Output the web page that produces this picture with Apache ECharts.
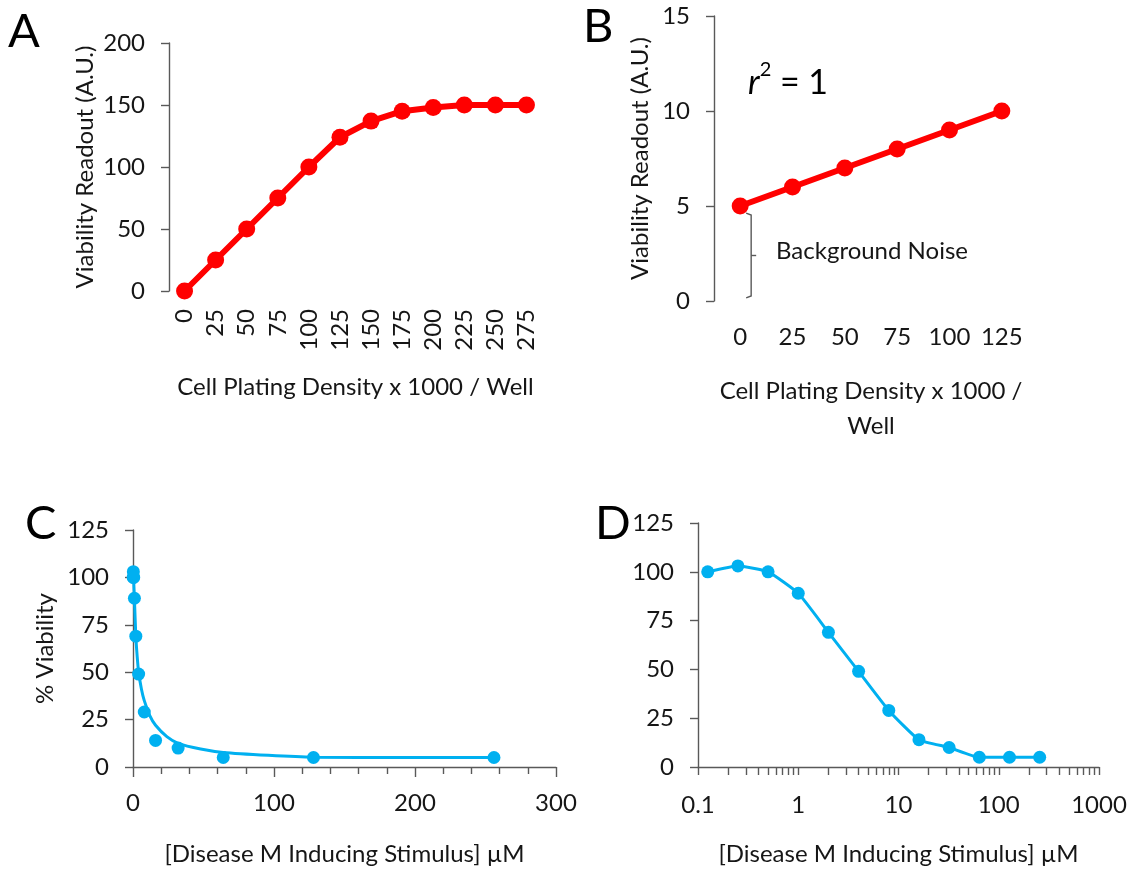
<!DOCTYPE html>
<html>
<head>
<meta charset="utf-8">
<script src="https://cdn.jsdelivr.net/npm/echarts@6/dist/echarts.min.js"></script>
<style>html,body{margin:0;padding:0;background:#fff}#c{width:1131px;height:872px}</style>
</head>
<body>
<div id="c"></div>
<script>
// ---- data ----
const densityA = ['0','25','50','75','100','125','150','175','200','225','250','275'];
const readoutA = [0,25,50,75,100,124,137,145,148,150,150,150];
const densityB = ['0','25','50','75','100','125'];
const readoutB = [5,6,7,8,9,10];
const braceB = [0, 4.63, 0.16]; // category index, top value, bottom value
const conc = [0.125,0.25,0.5,1,2,4,8,16,32,64,128,256];
const viability = [100,103,100,89,69,49,29,14,10,5,5,5];
const fitX = [0,0.5,1,2,3,4,6,8,12,16,24,32,48,64,96,128,192,256];
const fitY = [103,98,89,69,58,50,41,35,27,22,16,12.5,9.5,7.7,6.2,5.2,5,5];
const logTicks = [0.1,0.2,0.3,0.4,0.5,0.6,0.7,0.8,0.9,1,2,3,4,5,6,7,8,9,10,20,30,40,50,60,70,80,90,100,200,300,400,500,600,700,800,900,1000];
const logLabels = [0.1,1,10,100,1000];

const FONT = 'Lato';
const TXT = '#161616';
const AX = '#595959';
const RED = '#FF0000';
const BLUE = '#00B0F0';
const TICK_FS = 24;
const NAME_FS = 24;

function yAx(grid, min, max, interval, name, gap) {
  return {
    type: 'value', gridIndex: grid, min: min, max: max, interval: interval,
    axisLine: {show: true, lineStyle: {color: AX, width: 1.4}},
    axisTick: {show: true, length: 8, lineStyle: {color: AX, width: 1.4}},
    splitLine: {show: false},
    axisLabel: {fontSize: TICK_FS, color: TXT, fontFamily: FONT, margin: 24},
    name: name || '', nameLocation: 'middle', nameGap: gap || 0,
    nameTextStyle: {fontSize: NAME_FS, color: TXT, fontFamily: FONT}
  };
}

const chart = echarts.init(document.getElementById('c'), null, {renderer: 'canvas'});
const option = {
  backgroundColor: '#fff',
  animation: false,
  title: [
    {text: 'A', left: 8, top: 8},
    {text: 'B', left: 583, top: 3},
    {text: 'C', left: 25, top: 500},
    {text: 'D', left: 595, top: 500}
  ].map(t => Object.assign(t, {padding: 0, textStyle: {fontSize: 47, fontWeight: 'normal', fontFamily: FONT, color: '#000'}})),
  graphic: [
    {type: 'text', left: 748, top: 60, style: {
      text: '{i|r}{s|2}{n| = 1}',
      rich: {
        i: {fontSize: 34, fontStyle: 'italic', fontFamily: FONT, fill: '#000', lineHeight: 40, verticalAlign: 'bottom'},
        s: {fontSize: 20, fontFamily: FONT, fill: '#000', lineHeight: 40, verticalAlign: 'top'},
        n: {fontSize: 34, fontFamily: FONT, fill: '#000', lineHeight: 40, verticalAlign: 'bottom'}
      }
    }},
    {type: 'text', left: 776, top: 239, style: {text: 'Background Noise', fontSize: 24, fontFamily: FONT, fill: TXT}}
  ],
  grid: [
    {left: 169, right: 589, top: 43, bottom: 581},
    {left: 714, right: 103, top: 16, bottom: 571},
    {left: 133, right: 575, top: 530, bottom: 105},
    {left: 698, right: 32, top: 523, bottom: 105}
  ],
  xAxis: [
    {type: 'category', gridIndex: 0, data: densityA, boundaryGap: true,
     axisLine: {show: false}, axisTick: {show: false},
     axisLabel: {rotate: 90, fontSize: TICK_FS, color: TXT, fontFamily: FONT, margin: 18, interval: 0},
     name: 'Cell Plating Density x 1000 / Well', nameLocation: 'middle', nameGap: 84,
     nameTextStyle: {fontSize: NAME_FS, color: TXT, fontFamily: FONT, verticalAlign: 'top'}},
    {type: 'category', gridIndex: 1, data: densityB, boundaryGap: true,
     axisLine: {show: false}, axisTick: {show: false},
     axisLabel: {fontSize: TICK_FS, color: TXT, fontFamily: FONT, margin: 24, interval: 0},
     name: 'Cell Plating Density x 1000 /\nWell', nameLocation: 'middle', nameGap: 73,
     nameTextStyle: {fontSize: NAME_FS, color: TXT, fontFamily: FONT, lineHeight: 35, verticalAlign: 'top'}},
    {type: 'value', gridIndex: 2, min: 0, max: 300, interval: 100,
     axisLine: {show: true, onZero: false, lineStyle: {color: AX, width: 1.4}},
     axisTick: {show: true, length: 10, lineStyle: {color: AX, width: 1.4}},
     minorTick: {show: true, splitNumber: 5, length: 7, lineStyle: {color: AX, width: 1.4}},
     splitLine: {show: false},
     axisLabel: {fontSize: TICK_FS, color: TXT, fontFamily: FONT, margin: 24},
     name: '[Disease M Inducing Stimulus] µM', nameLocation: 'middle', nameGap: 75,
     nameTextStyle: {fontSize: NAME_FS, color: TXT, fontFamily: FONT, verticalAlign: 'top'}},
    {type: 'log', gridIndex: 3, min: 0.1, max: 1000, logBase: 10,
     axisLine: {show: true, onZero: false, lineStyle: {color: AX, width: 1.4}},
     axisTick: {show: true, length: 8, customValues: logTicks, lineStyle: {color: AX, width: 1.4}},
     splitLine: {show: false},
     axisLabel: {fontSize: TICK_FS, color: TXT, fontFamily: FONT, margin: 26, customValues: logLabels,
       formatter: v => String(+v.toPrecision(6))},
     name: '[Disease M Inducing Stimulus] µM', nameLocation: 'middle', nameGap: 75,
     nameTextStyle: {fontSize: NAME_FS, color: TXT, fontFamily: FONT, verticalAlign: 'top'}}
  ],
  yAxis: [
    yAx(0, 0, 200, 50, 'Viability Readout (A.U.)', 72),
    yAx(1, 0, 15, 5, 'Viability Readout (A.U.)', 62),
    yAx(2, 0, 125, 25, '% Viability', 76),
    yAx(3, 0, 125, 25, '', 0)
  ],
  series: [
    {type: 'line', xAxisIndex: 0, yAxisIndex: 0, data: readoutA,
     symbol: 'circle', symbolSize: 17, lineStyle: {color: RED, width: 6}, itemStyle: {color: RED}},
    {type: 'line', xAxisIndex: 1, yAxisIndex: 1, data: readoutB,
     symbol: 'circle', symbolSize: 17, lineStyle: {color: RED, width: 6}, itemStyle: {color: RED}},
    {type: 'custom', xAxisIndex: 1, yAxisIndex: 1, data: [braceB], silent: true,
     renderItem: function (params, api) {
       const t = api.coord([api.value(0), api.value(1)]);
       const b = api.coord([api.value(0), api.value(2)]);
       const x = t[0] + 11, m = (t[1] + b[1]) / 2;
       const st = {stroke: AX, lineWidth: 1.4, fill: null};
       return {type: 'group', children: [
         {type: 'polyline', shape: {points: [[x - 5, t[1]], [x, t[1] + 2], [x, b[1] - 2], [x - 5, b[1]]]}, style: st},
         {type: 'line', shape: {x1: x, y1: m, x2: x + 5, y2: m}, style: st}
       ]};
     }},
    {type: 'line', xAxisIndex: 2, yAxisIndex: 2, data: fitX.map((x, i) => [x, fitY[i]]),
     smooth: 0.2, showSymbol: false, lineStyle: {color: BLUE, width: 3}},
    {type: 'scatter', xAxisIndex: 2, yAxisIndex: 2, data: conc.map((x, i) => [x, viability[i]]),
     symbol: 'circle', symbolSize: 13, itemStyle: {color: BLUE, opacity: 1}},
    {type: 'line', xAxisIndex: 3, yAxisIndex: 3, data: conc.map((x, i) => [x, viability[i]]),
     smooth: 0.15, symbol: 'circle', symbolSize: 13, lineStyle: {color: BLUE, width: 3}, itemStyle: {color: BLUE}}
  ]
};
chart.setOption(option);
</script>
</body>
</html>
